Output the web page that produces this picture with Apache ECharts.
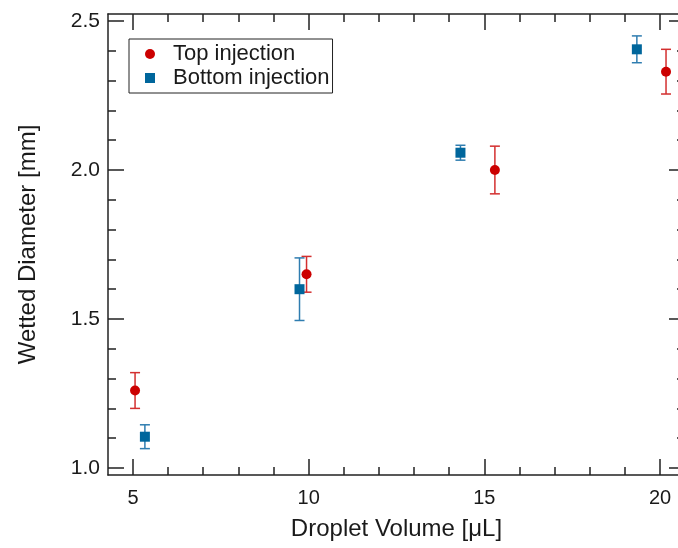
<!DOCTYPE html>
<html>
<head>
<meta charset="utf-8">
<script src="https://cdn.jsdelivr.net/npm/echarts@6/dist/echarts.min.js"></script>
<style>
  html, body { margin: 0; padding: 0; background: #fff; }
  #chart { width: 678px; height: 548px; }
</style>
</head>
<body>
<div id="chart"></div>
<script>
// data: [volume, diameter, error]
var topInjection = [
    [5.06, 1.26, 0.06],
    [9.94, 1.65, 0.06],
    [15.30, 2.00, 0.08],
    [20.17, 2.33, 0.075]
];
var bottomInjection = [
    [5.34, 1.105, 0.04],
    [9.74, 1.60, 0.105],
    [14.32, 2.058, 0.025],
    [19.34, 2.405, 0.045]
];
var xMajor = [5, 10, 15, 20];
var xMinor = [5, 6, 7, 8, 9, 10, 11, 12, 13, 14, 15, 16, 17, 18, 19, 20];
var yMajor = [1.0, 1.5, 2.0, 2.5];
var yMinor = [1.0, 1.1, 1.2, 1.3, 1.4, 1.5, 1.6, 1.7, 1.8, 1.9, 2.0, 2.1, 2.2, 2.3, 2.4, 2.5];

var font = '"Liberation Sans", Arial, sans-serif';
var axisColor = '#222';
var red = '#cc0000', redBar = '#d32f2f';
var blue = '#00669c', blueBar = '#2f7db0';

var myChart = echarts.init(document.getElementById('chart'));

function xAx(pos, ticks, len, showLabel, showLine) {
    return {
        type: 'value', position: pos, min: 4.29, max: 20.71,
        axisLine: {show: showLine, onZero: false, lineStyle: {color: axisColor, width: 1.5}},
        axisTick: {show: true, inside: true, length: len, customValues: ticks,
            lineStyle: {color: axisColor, width: 1.5}},
        axisLabel: {show: showLabel, customValues: ticks, margin: 13,
            fontFamily: font, fontSize: 20, color: '#1a1a1a'},
        splitLine: {show: false}
    };
}
function yAx(pos, ticks, len, showLabel, showLine) {
    return {
        type: 'value', position: pos, min: 0.9765, max: 2.5235,
        axisLine: {show: showLine, onZero: false, lineStyle: {color: axisColor, width: 1.5}},
        axisTick: {show: true, inside: true, length: len, customValues: ticks,
            lineStyle: {color: axisColor, width: 1.5}},
        axisLabel: {show: showLabel, customValues: ticks, margin: 8,
            fontFamily: font, fontSize: 21, color: '#1a1a1a',
            formatter: function (v) { return v.toFixed(1); }},
        splitLine: {show: false}
    };
}

var xAxes = [
    xAx('bottom', xMajor, 16, true, true),
    xAx('bottom', xMinor, 8, false, false),
    xAx('top', xMajor, 16, false, true),
    xAx('top', xMinor, 8, false, false)
];
xAxes[0].name = 'Droplet Volume [\u03bcL]';
xAxes[0].nameLocation = 'middle';
xAxes[0].nameGap = 42;
xAxes[0].nameTextStyle = {fontFamily: font, fontSize: 24, color: '#1a1a1a'};

var yAxes = [
    yAx('left', yMajor, 16, true, true),
    yAx('left', yMinor, 8, false, false),
    yAx('right', yMajor, 16, false, false),
    yAx('right', yMinor, 8, false, false)
];
yAxes[0].name = 'Wetted Diameter [mm]';
yAxes[0].nameLocation = 'middle';
yAxes[0].nameGap = 68;
yAxes[0].nameTextStyle = {fontFamily: font, fontSize: 24, color: '#1a1a1a'};

function errorBars(color) {
    return function (params, api) {
        var x = api.value(0), y = api.value(1), e = api.value(2);
        var hi = api.coord([x, y + e]);
        var lo = api.coord([x, y - e]);
        var hw = 5;
        var st = {stroke: color, lineWidth: 1.5};
        return {
            type: 'group',
            children: [
                {type: 'line', shape: {x1: hi[0], y1: hi[1], x2: lo[0], y2: lo[1]}, style: st},
                {type: 'line', shape: {x1: hi[0] - hw, y1: hi[1], x2: hi[0] + hw, y2: hi[1]}, style: st},
                {type: 'line', shape: {x1: lo[0] - hw, y1: lo[1], x2: lo[0] + hw, y2: lo[1]}, style: st}
            ]
        };
    };
}

var option = {
    backgroundColor: '#fff',
    animation: false,
    grid: {left: 108, top: 14, width: 577, height: 461, outerBoundsMode: 'none', containLabel: false},
    legend: {
        data: [
            {name: 'Top injection', icon: 'circle'},
            {name: 'Bottom injection', icon: 'rect'}
        ],
        orient: 'vertical',
        left: 129, top: 39,
        padding: [4, 3, 4, 16],
        itemWidth: 10, itemHeight: 10, itemGap: 2,
        borderColor: '#222', borderWidth: 1,
        textStyle: {fontFamily: font, fontSize: 22, color: '#1a1a1a', padding: [0, 0, 0, 13]}
    },
    xAxis: xAxes,
    yAxis: yAxes,
    series: [
        {
            name: 'top err', type: 'custom', renderItem: errorBars(redBar),
            data: topInjection, z: 2, silent: true
        },
        {
            name: 'bottom err', type: 'custom', renderItem: errorBars(blueBar),
            data: bottomInjection, z: 2, silent: true
        },
        {
            name: 'Top injection', type: 'scatter', symbol: 'circle', symbolSize: 10,
            itemStyle: {color: red, opacity: 1}, data: topInjection, z: 3
        },
        {
            name: 'Bottom injection', type: 'scatter', symbol: 'rect', symbolSize: 10,
            itemStyle: {color: blue, opacity: 1}, data: bottomInjection, z: 3
        }
    ]
};
myChart.setOption(option);
</script>
</body>
</html>
